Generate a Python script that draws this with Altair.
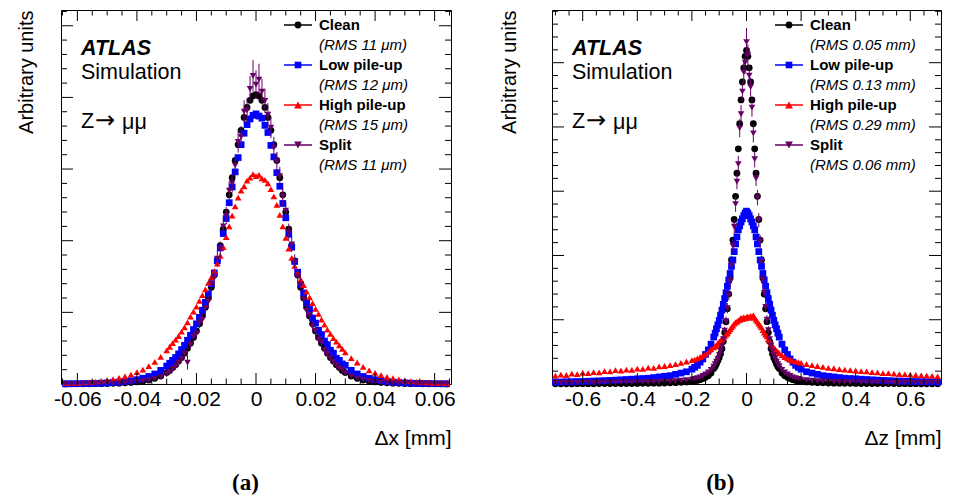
import altair as alt
import pandas as pd

FONT = "Liberation Sans"
SERIES = ["Clean", "Low pile-up", "High pile-up", "Split"]
COLORS = ["#000000", "#0000ff", "#ff0000", "#660066"]
SHAPES = ["circle", "square", "triangle-up", "triangle-down"]
SIZES = [46, 44, 62, 62]
RMS_X = ["(RMS 11 μm)", "(RMS 12 μm)", "(RMS 15 μm)", "(RMS 11 μm)"]
RMS_Z = ["(RMS 0.05 mm)", "(RMS 0.13 mm)", "(RMS 0.29 mm)", "(RMS 0.06 mm)"]

# ---------------- panel (a): delta x ----------------
dx_bins = [-0.064, -0.062, -0.060, -0.058, -0.056, -0.054, -0.052, -0.050, -0.048, -0.046, -0.044, -0.042, -0.040, -0.038, -0.036, -0.034, -0.032,
           -0.030, -0.029, -0.028, -0.027, -0.026, -0.025, -0.024, -0.023, -0.022, -0.021,
           -0.020, -0.019, -0.018, -0.017, -0.016, -0.015, -0.014, -0.013, -0.012, -0.011,
           -0.010, -0.009, -0.008, -0.007, -0.006, -0.005, -0.004, -0.003, -0.002, -0.001,
           0.0,
           0.001, 0.002, 0.003, 0.004, 0.005, 0.006, 0.007, 0.008, 0.009, 0.010,
           0.011, 0.012, 0.013, 0.014, 0.015, 0.016, 0.017, 0.018, 0.019, 0.020,
           0.021, 0.022, 0.023, 0.024, 0.025, 0.026, 0.027, 0.028, 0.029, 0.030,
           0.032, 0.034, 0.036, 0.038, 0.040, 0.042, 0.044, 0.046, 0.048, 0.050, 0.052, 0.054, 0.056, 0.058, 0.060, 0.062, 0.064]

dx_clean = [0.001, 0.002, 0.002, 0.003, 0.003, 0.004, 0.005, 0.007, 0.009, 0.012, 0.016, 0.022, 0.030, 0.040, 0.055, 0.080, 0.110,
            0.16, 0.19, 0.23, 0.27, 0.32, 0.37, 0.43, 0.50, 0.57, 0.65,
            0.74, 0.84, 0.95, 1.07, 1.20, 1.35, 1.52, 1.72, 1.93, 2.16,
            2.40, 2.64, 2.88, 3.12, 3.34, 3.54, 3.72, 3.86, 3.96, 4.02,
            4.04,
            4.02, 3.96, 3.86, 3.72, 3.54, 3.34, 3.12, 2.88, 2.64, 2.40,
            2.16, 1.93, 1.72, 1.52, 1.35, 1.20, 1.07, 0.95, 0.84, 0.74,
            0.65, 0.57, 0.50, 0.43, 0.37, 0.32, 0.27, 0.23, 0.19, 0.16,
            0.110, 0.080, 0.055, 0.040, 0.030, 0.022, 0.016, 0.012, 0.009, 0.007, 0.005, 0.004, 0.003, 0.003, 0.002, 0.002, 0.001]

dx_low = [0.003, 0.004, 0.005, 0.006, 0.007, 0.009, 0.012, 0.015, 0.020, 0.026, 0.034, 0.045, 0.060, 0.080, 0.105, 0.140, 0.190,
          0.25, 0.29, 0.33, 0.37, 0.42, 0.48, 0.54, 0.61, 0.68, 0.76,
          0.84, 0.93, 1.03, 1.14, 1.26, 1.40, 1.55, 1.72, 1.90, 2.10,
          2.31, 2.53, 2.75, 2.96, 3.16, 3.34, 3.50, 3.62, 3.70, 3.75,
          3.77,
          3.74, 3.71, 3.61, 3.51, 3.33, 3.17, 2.95, 2.76, 2.52, 2.32,
          2.09, 1.91, 1.71, 1.56, 1.39, 1.27, 1.13, 1.04, 0.92, 0.85,
          0.75, 0.69, 0.60, 0.55, 0.47, 0.43, 0.36, 0.33, 0.28, 0.26,
          0.190, 0.140, 0.105, 0.080, 0.060, 0.045, 0.034, 0.026, 0.020, 0.015, 0.012, 0.009, 0.007, 0.006, 0.005, 0.004, 0.003]

dx_high = [0.011, 0.014, 0.017, 0.021, 0.027, 0.034, 0.043, 0.054, 0.068, 0.085, 0.105, 0.130, 0.165, 0.200, 0.250, 0.310, 0.380,
           0.47, 0.52, 0.57, 0.62, 0.67, 0.73, 0.79, 0.86, 0.94, 1.01,
           1.08, 1.16, 1.24, 1.32, 1.41, 1.49, 1.58, 1.68, 1.79, 1.91,
           2.05, 2.20, 2.35, 2.48, 2.60, 2.70, 2.76, 2.84, 2.88, 2.93,
           2.90,
           2.92, 2.87, 2.85, 2.80, 2.72, 2.62, 2.50, 2.36, 2.20, 2.04,
           1.89, 1.76, 1.65, 1.55, 1.46, 1.38, 1.29, 1.21, 1.13, 1.05,
           0.98, 0.90, 0.83, 0.76, 0.70, 0.64, 0.59, 0.54, 0.49, 0.44,
           0.360, 0.300, 0.240, 0.190, 0.155, 0.125, 0.100, 0.080, 0.064, 0.050, 0.040, 0.032, 0.025, 0.020, 0.016, 0.013, 0.010]

dx_split = [0.002, 0.002, 0.003, 0.003, 0.004, 0.005, 0.006, 0.008, 0.010, 0.012, 0.015, 0.020, 0.030, 0.040, 0.050, 0.070, 0.100,
            0.14, 0.17, 0.21, 0.25, 0.30, 0.35, 0.42, 0.30, 0.55, 0.66,
            0.70, 0.86, 0.90, 1.06, 1.15, 1.40, 1.48, 1.75, 1.88, 2.20,
            2.35, 2.70, 2.80, 3.05, 3.38, 3.45, 3.80, 3.82, 4.12, 4.30,
            4.18,
            4.25, 4.08, 3.95, 3.76, 3.58, 3.30, 3.10, 2.90, 2.62, 2.42,
            2.12, 1.95, 1.70, 1.50, 1.38, 1.18, 1.02, 0.96, 0.80, 0.74,
            0.62, 0.58, 0.47, 0.42, 0.36, 0.31, 0.26, 0.22, 0.20, 0.15,
            0.110, 0.080, 0.060, 0.040, 0.030, 0.025, 0.015, 0.012, 0.010, 0.008, 0.006, 0.005, 0.004, 0.003, 0.003, 0.002, 0.002]

dx_split_err = [0.01, 0.01, 0.01, 0.01, 0.01, 0.01, 0.01, 0.01, 0.01, 0.01, 0.01, 0.01, 0.01, 0.01, 0.01, 0.01, 0.01,
                0.04, 0.04, 0.04, 0.05, 0.05, 0.05, 0.06, 0.10, 0.06, 0.07,
                0.07, 0.08, 0.08, 0.09, 0.09, 0.10, 0.10, 0.11, 0.11, 0.12,
                0.12, 0.13, 0.13, 0.14, 0.15, 0.15, 0.16, 0.17, 0.18, 0.22,
                0.20,
                0.22, 0.18, 0.17, 0.16, 0.15, 0.15, 0.14, 0.13, 0.13, 0.12,
                0.12, 0.11, 0.11, 0.10, 0.10, 0.09, 0.09, 0.08, 0.08, 0.07,
                0.07, 0.06, 0.06, 0.05, 0.05, 0.05, 0.04, 0.04, 0.04, 0.04,
                0.01, 0.01, 0.01, 0.01, 0.01, 0.01, 0.01, 0.01, 0.01, 0.01, 0.01, 0.01, 0.01, 0.01, 0.01, 0.01, 0.01]

dx_domain = [-0.0655, 0.0655]
dx_major = [-0.06, -0.04, -0.02, 0, 0.02, 0.04, 0.06]
dx_minor = [-0.065, -0.055, -0.05, -0.045, -0.035, -0.03, -0.025, -0.015, -0.01, -0.005,
            0.005, 0.01, 0.015, 0.025, 0.03, 0.035, 0.045, 0.05, 0.055, 0.065]
ya_domain = [0, 5.22]
ya_minor = [0.2, 0.4, 0.6, 0.8, 1.2, 1.4, 1.6, 1.8, 2.2, 2.4, 2.6, 2.8, 3.2, 3.4, 3.6, 3.8, 4.2, 4.4, 4.6, 4.8, 5.2]

# ---------------- panel (b): delta z ----------------
dz_bins = [-0.70, -0.68, -0.66, -0.64, -0.62, -0.60, -0.58, -0.56, -0.54, -0.52, -0.50, -0.48, -0.46, -0.44, -0.42, -0.40,
           -0.38, -0.36, -0.34, -0.32, -0.30, -0.28, -0.26, -0.24, -0.22,
           -0.20, -0.19, -0.18, -0.17, -0.16, -0.15, -0.14, -0.13,
           -0.120, -0.115, -0.110, -0.105, -0.100, -0.095, -0.090, -0.085, -0.080, -0.075, -0.070, -0.065,
           -0.060, -0.055, -0.050, -0.045, -0.040, -0.035, -0.030, -0.025, -0.020, -0.015, -0.010, -0.005,
           0.0,
           0.005, 0.010, 0.015, 0.020, 0.025, 0.030, 0.035, 0.040, 0.045, 0.050, 0.055, 0.060,
           0.065, 0.070, 0.075, 0.080, 0.085, 0.090, 0.095, 0.100, 0.105, 0.110, 0.115, 0.120,
           0.13, 0.14, 0.15, 0.16, 0.17, 0.18, 0.19, 0.20,
           0.22, 0.24, 0.26, 0.28, 0.30, 0.32, 0.34, 0.36, 0.38, 0.40, 0.42, 0.44, 0.46,
           0.48, 0.50, 0.52, 0.54, 0.56, 0.58, 0.60, 0.62, 0.64, 0.66, 0.68, 0.70]

dz_clean = [0.004, 0.004, 0.004, 0.004, 0.005, 0.005, 0.005, 0.005, 0.006, 0.006, 0.006, 0.007, 0.007, 0.008, 0.008, 0.009,
            0.010, 0.011, 0.012, 0.013, 0.015, 0.018, 0.021, 0.026, 0.032,
            0.040, 0.046, 0.055, 0.068, 0.085, 0.105, 0.13, 0.17,
            0.24, 0.27, 0.31, 0.36, 0.41, 0.47, 0.55, 0.66, 0.80, 0.97, 1.17, 1.40,
            1.65, 1.93, 2.24, 2.56, 2.92, 3.28, 3.66, 4.05, 4.42, 4.70, 4.92, 5.10,
            5.19,
            5.10, 4.92, 4.70, 4.42, 4.05, 3.66, 3.28, 2.92, 2.56, 2.24, 1.93, 1.65,
            1.40, 1.17, 0.97, 0.80, 0.66, 0.55, 0.47, 0.41, 0.36, 0.31, 0.27, 0.24,
            0.17, 0.13, 0.105, 0.085, 0.068, 0.055, 0.046, 0.040,
            0.032, 0.026, 0.021, 0.018, 0.015, 0.013, 0.012, 0.011, 0.010, 0.009, 0.008, 0.008, 0.007,
            0.007, 0.006, 0.006, 0.006, 0.005, 0.005, 0.005, 0.005, 0.004, 0.004, 0.004, 0.004]

dz_low = [0.030, 0.032, 0.034, 0.036, 0.038, 0.040, 0.043, 0.046, 0.049, 0.052, 0.056, 0.060, 0.065, 0.070, 0.075, 0.080,
          0.085, 0.090, 0.100, 0.110, 0.120, 0.130, 0.150, 0.170, 0.190,
          0.23, 0.26, 0.29, 0.34, 0.39, 0.46, 0.53, 0.62,
          0.73, 0.79, 0.86, 0.92, 0.99, 1.07, 1.15, 1.24, 1.33, 1.42, 1.52, 1.62,
          1.72, 1.83, 1.93, 2.06, 2.18, 2.29, 2.40, 2.46, 2.52, 2.57, 2.62, 2.66,
          2.69,
          2.66, 2.62, 2.57, 2.52, 2.46, 2.40, 2.29, 2.18, 2.06, 1.93, 1.83, 1.72,
          1.62, 1.52, 1.42, 1.33, 1.24, 1.15, 1.07, 0.99, 0.92, 0.86, 0.79, 0.73,
          0.62, 0.53, 0.46, 0.39, 0.34, 0.29, 0.26, 0.23,
          0.190, 0.170, 0.150, 0.130, 0.120, 0.110, 0.100, 0.090, 0.085, 0.080, 0.075, 0.070, 0.065,
          0.060, 0.056, 0.052, 0.049, 0.046, 0.043, 0.040, 0.038, 0.036, 0.034, 0.032, 0.030]

dz_high = [0.130, 0.145, 0.140, 0.160, 0.155, 0.175, 0.170, 0.185, 0.180, 0.200, 0.195, 0.215, 0.210, 0.225, 0.220, 0.240,
           0.235, 0.255, 0.250, 0.275, 0.280, 0.295, 0.310, 0.330, 0.350,
           0.37, 0.38, 0.40, 0.42, 0.44, 0.47, 0.50, 0.54,
           0.57, 0.59, 0.61, 0.63, 0.66, 0.68, 0.70, 0.72, 0.74, 0.77, 0.79, 0.82,
           0.85, 0.88, 0.91, 0.94, 0.96, 0.97, 0.99, 1.00, 1.03, 1.01, 1.04, 1.02,
           1.04,
           1.05, 1.03, 1.06, 1.04, 1.07, 1.03, 1.00, 0.97, 0.94, 0.91, 0.88, 0.84,
           0.80, 0.77, 0.74, 0.70, 0.67, 0.63, 0.60, 0.57, 0.54, 0.52, 0.50, 0.48,
           0.45, 0.42, 0.40, 0.38, 0.36, 0.35, 0.34, 0.33,
           0.310, 0.295, 0.280, 0.265, 0.250, 0.245, 0.230, 0.225, 0.215, 0.210, 0.200, 0.195, 0.185,
           0.180, 0.170, 0.168, 0.160, 0.155, 0.150, 0.146, 0.140, 0.135, 0.130, 0.127, 0.120]

dz_split = [0.017, 0.018, 0.018, 0.019, 0.019, 0.020, 0.020, 0.021, 0.022, 0.022, 0.023, 0.024, 0.025, 0.026, 0.027, 0.028,
            0.030, 0.031, 0.033, 0.035, 0.038, 0.042, 0.046, 0.052, 0.060,
            0.070, 0.080, 0.090, 0.105, 0.125, 0.150, 0.180, 0.220,
            0.27, 0.31, 0.35, 0.39, 0.45, 0.51, 0.59, 0.70, 0.83, 0.98, 1.18, 1.38,
            1.60, 1.85, 2.15, 2.45, 2.80, 3.15, 3.42, 3.98, 4.20, 4.55, 4.85, 5.00,
            5.32,
            5.12, 4.80, 4.62, 4.30, 3.90, 3.50, 3.20, 2.90, 2.55, 2.22, 1.90, 1.62,
            1.42, 1.20, 1.00, 0.84, 0.70, 0.60, 0.52, 0.45, 0.40, 0.35, 0.31, 0.28,
            0.220, 0.180, 0.150, 0.125, 0.105, 0.090, 0.080, 0.070,
            0.060, 0.052, 0.046, 0.042, 0.038, 0.035, 0.033, 0.031, 0.030, 0.028, 0.027, 0.026, 0.025,
            0.024, 0.023, 0.022, 0.022, 0.021, 0.020, 0.020, 0.019, 0.019, 0.018, 0.018, 0.017]

dz_split_err = [0.005, 0.005, 0.005, 0.005, 0.005, 0.005, 0.005, 0.005, 0.005, 0.005, 0.005, 0.005, 0.005, 0.005, 0.005, 0.005,
                0.005, 0.005, 0.005, 0.005, 0.005, 0.005, 0.005, 0.005, 0.005,
                0.01, 0.01, 0.012, 0.012, 0.014, 0.015, 0.016, 0.02,
                0.03, 0.03, 0.04, 0.04, 0.04, 0.05, 0.05, 0.06, 0.06, 0.07, 0.08, 0.08,
                0.09, 0.10, 0.10, 0.11, 0.12, 0.12, 0.13, 0.14, 0.14, 0.15, 0.16, 0.17,
                0.22,
                0.17, 0.16, 0.15, 0.14, 0.14, 0.13, 0.12, 0.12, 0.11, 0.10, 0.10, 0.09,
                0.08, 0.08, 0.07, 0.06, 0.06, 0.05, 0.05, 0.04, 0.04, 0.04, 0.03, 0.03,
                0.02, 0.016, 0.015, 0.014, 0.012, 0.012, 0.01, 0.01,
                0.005, 0.005, 0.005, 0.005, 0.005, 0.005, 0.005, 0.005, 0.005, 0.005, 0.005, 0.005, 0.005,
                0.005, 0.005, 0.005, 0.005, 0.005, 0.005, 0.005, 0.005, 0.005, 0.005, 0.005, 0.005]

dz_domain = [-0.7125, 0.7125]
dz_major = [-0.6, -0.4, -0.2, 0, 0.2, 0.4, 0.6]
dz_minor = [-0.7, -0.65, -0.55, -0.5, -0.45, -0.35, -0.3, -0.25, -0.15, -0.1, -0.05,
            0.05, 0.1, 0.15, 0.25, 0.3, 0.35, 0.45, 0.5, 0.55, 0.65, 0.7]
yb_domain = [0, 5.82]
yb_minor = [0.2, 0.4, 0.6, 0.8, 1.2, 1.4, 1.6, 1.8, 2.2, 2.4, 2.6, 2.8, 3.2, 3.4, 3.6, 3.8,
            4.2, 4.4, 4.6, 4.8, 5.2, 5.4, 5.6, 5.8]
y_major = [1, 2, 3, 4, 5]

for arr in (dx_clean, dx_low, dx_high, dx_split, dx_split_err):
    assert len(arr) == len(dx_bins), len(arr)
for arr in (dz_clean, dz_low, dz_high, dz_split, dz_split_err):
    assert len(arr) == len(dz_bins), len(arr)


def panel(bins, vals, split_err, xdom, ydom, xmaj, xmin, ymin, xtitle, rms, caption,
          ytpad, W, H, cap_dx):
    rows = []
    for name, arr in zip(SERIES, vals):
        for xv, yv in zip(bins, arr):
            rows.append({"x": xv, "v": yv, "series": name})
    df = pd.DataFrame(rows)
    err_df = pd.DataFrame({
        "x": bins,
        "lo": [a - e for a, e in zip(vals[3], split_err)],
        "hi": [a + e for a, e in zip(vals[3], split_err)],
    })
    xs = alt.Scale(domain=xdom, nice=False, zero=False)
    ys = alt.Scale(domain=ydom, nice=False, zero=False)

    pts = alt.Chart(df).mark_point(filled=True, opacity=1, strokeWidth=0).encode(
        x=alt.X("x:Q", scale=xs, axis=alt.Axis(
            values=xmaj, labelExpr="toString(datum.value)", ticks=False, domain=False,
            grid=False, labelFont=FONT, labelFontSize=21, labelColor="black",
            labelPadding=4, labelFlush=False, labelOverlap=False,
            title=xtitle, titleFont=FONT, titleFontSize=21, titleFontWeight="normal",
            titleAnchor="end", titlePadding=18, titleColor="black")),
        y=alt.Y("v:Q", scale=ys, axis=alt.Axis(
            labels=False, ticks=False, domain=False, grid=False,
            title="Arbitrary units", titleFont=FONT, titleFontSize=20,
            titleFontWeight="normal", titleAnchor="end", titlePadding=ytpad,
            titleColor="black")),
        color=alt.Color("series:N", scale=alt.Scale(domain=SERIES, range=COLORS), legend=None),
        shape=alt.Shape("series:N", scale=alt.Scale(domain=SERIES, range=SHAPES), legend=None),
        size=alt.Size("series:N", scale=alt.Scale(domain=SERIES, range=SIZES), legend=None),
    )
    errs = alt.Chart(err_df).mark_rule(color=COLORS[3], strokeWidth=1).encode(
        x=alt.X("x:Q", scale=xs),
        y=alt.Y("lo:Q", scale=ys),
        y2="hi:Q",
    )

    layers = [pts, errs]

    def yt(values, length, left):
        x0 = 0 if left else W - length
        return alt.Chart(pd.DataFrame({"t": values})).mark_rule(color="black", strokeWidth=1).encode(
            y=alt.Y("t:Q", scale=ys), x=alt.value(x0), x2=alt.value(x0 + length))

    def xt(values, length, bottom):
        y0 = H if bottom else 0
        y1 = H - length if bottom else length
        return alt.Chart(pd.DataFrame({"t": values})).mark_rule(color="black", strokeWidth=1).encode(
            x=alt.X("t:Q", scale=xs), y=alt.value(y0), y2=alt.value(y1))

    for left in (True, False):
        layers.append(yt(y_major, 12, left))
        layers.append(yt(ymin, 6, left))
    for bottom in (True, False):
        layers.append(xt(xmaj, 11, bottom))
        layers.append(xt(xmin, 5.5, bottom))

    one = pd.DataFrame({"k": [0]})

    def txt(s, x, y, size, weight="normal", style="normal", font=FONT):
        return alt.Chart(one).mark_text(
            text=s, align="left", baseline="middle", font=font, fontSize=size,
            fontWeight=weight, fontStyle=style, color="black").encode(
            x=alt.value(x), y=alt.value(y))

    layers.append(txt("ATLAS", 20, 39, 21.5, "bold", "italic"))
    layers.append(txt("Simulation", 20, 63, 21.5))
    layers.append(txt("Z", 20, 112, 21.5))
    layers.append(txt("→", 34, 111, 24, font="DejaVu Sans"))
    layers.append(txt("μμ", 61, 113, 21.5))

    for i, name in enumerate(SERIES):
        yrow = 15 + 40 * i
        layers.append(alt.Chart(one).mark_rule(color=COLORS[i], strokeWidth=1.5).encode(
            x=alt.value(223), x2=alt.value(251), y=alt.value(yrow)))
        layers.append(alt.Chart(one).mark_point(
            shape=SHAPES[i], filled=True, opacity=1, color=COLORS[i], size=SIZES[i],
            strokeWidth=0).encode(x=alt.value(237), y=alt.value(yrow)))
        layers.append(txt(name, 258, yrow, 15, "bold"))
        layers.append(txt(rms[i], 258, yrow + 20, 15, "normal", "italic"))

    return alt.layer(*layers).properties(
        width=W, height=H,
        title=alt.TitleParams(caption, orient="bottom", anchor="middle", frame="bounds",
                              font="Liberation Serif", fontSize=23, fontWeight="bold",
                              color="black", offset=24, dx=cap_dx))


left = panel(dx_bins, [dx_clean, dx_low, dx_high, dx_split], dx_split_err, dx_domain, ya_domain,
             dx_major, dx_minor, ya_minor, "Δx [mm]", RMS_X, "(a)", 25, 390, 374, 10)
right = panel(dz_bins, [dz_clean, dz_low, dz_high, dz_split], dz_split_err, dz_domain, yb_domain,
              dz_major, dz_minor, yb_minor, "Δz [mm]", RMS_Z, "(b)", 33, 389, 374, 0)

chart = alt.hconcat(left, right, spacing=42).properties(
    padding={"left": 7, "top": 1, "right": 0, "bottom": 0}
).configure_view(stroke="black", strokeWidth=1)

chart.save("out.html", embed_options={"renderer": "svg", "actions": False})
